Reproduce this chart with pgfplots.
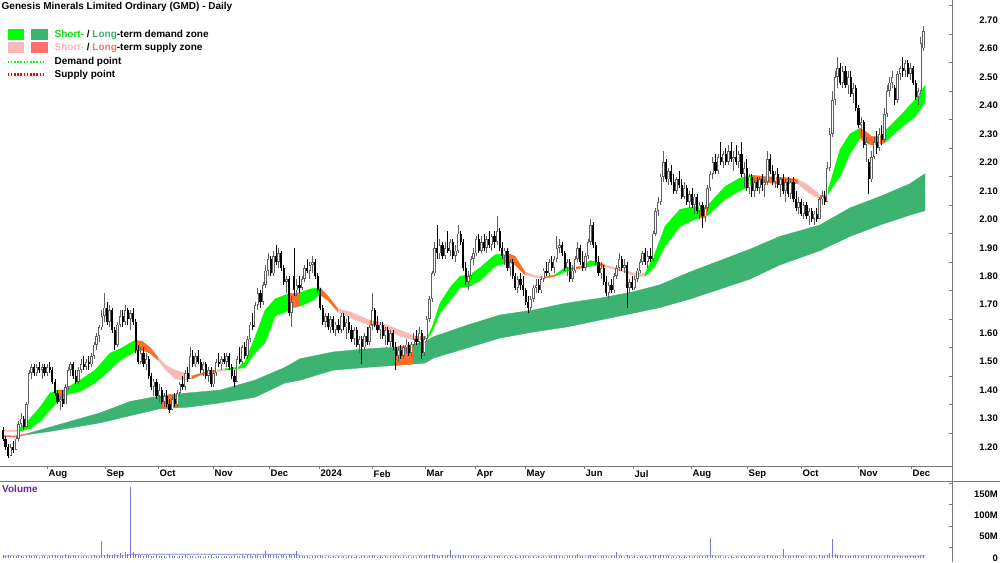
\documentclass[border=0pt]{standalone}
\usepackage{pgfplots}
\pgfplotsset{compat=1.18}
\usepackage{pgfplotstable}
\usepackage{fontspec}
\setmainfont{Liberation Sans}
\definecolor{stg}{RGB}{0,255,0}
\definecolor{stgt}{RGB}{0,225,0}
\definecolor{ltg}{RGB}{60,179,113}
\definecolor{stp}{RGB}{250,185,185}
\definecolor{ltp}{RGB}{255,110,110}
\definecolor{org}{RGB}{250,110,40}
\definecolor{upc}{RGB}{95,95,95}
\definecolor{volc}{RGB}{120,120,215}
\definecolor{volt}{RGB}{100,40,150}
\definecolor{axc}{RGB}{120,120,120}
\newcommand{\tf}{\fontsize{9.5}{11}\selectfont\bfseries}
\newcommand{\lf}{\fontsize{10}{12}\selectfont\bfseries}

\pgfplotstableread{
i o h l c v
0 1.26 1.27 1.22 1.23 6
1 1.23 1.24 1.19 1.20 5
2 1.20 1.21 1.16 1.17 7
3 1.17 1.21 1.17 1.20 4
4 1.20 1.22 1.18 1.19 5
5 1.19 1.24 1.19 1.23 4
6 1.23 1.29 1.22 1.28 6
7 1.28 1.32 1.27 1.30 5
8 1.30 1.31 1.26 1.27 3
9 1.27 1.36 1.27 1.35 5
10 1.35 1.47 1.35 1.46 7
11 1.46 1.49 1.44 1.48 5
12 1.48 1.49 1.45 1.46 4
13 1.46 1.49 1.45 1.48 5
14 1.48 1.50 1.46 1.47 3
15 1.47 1.49 1.44 1.48 4
16 1.48 1.49 1.45 1.46 5
17 1.46 1.49 1.45 1.48 3
18 1.48 1.50 1.46 1.47 4
19 1.47 1.48 1.42 1.43 6
20 1.43 1.44 1.38 1.39 7
21 1.39 1.40 1.35 1.36 5
22 1.36 1.38 1.33 1.37 4
23 1.37 1.40 1.34 1.35 5
24 1.35 1.42 1.35 1.41 9
25 1.41 1.48 1.40 1.47 6
26 1.47 1.50 1.45 1.49 5
27 1.49 1.50 1.44 1.45 7
28 1.45 1.47 1.42 1.43 4
29 1.43 1.48 1.42 1.47 5
30 1.47 1.51 1.46 1.49 3
31 1.49 1.52 1.47 1.48 4
32 1.48 1.51 1.47 1.50 5
33 1.50 1.52 1.47 1.49 3
34 1.49 1.53 1.48 1.52 4
35 1.52 1.57 1.51 1.56 6
36 1.56 1.60 1.54 1.59 5
37 1.59 1.63 1.57 1.62 4
38 1.62 1.68 1.61 1.66 40
39 1.66 1.74 1.64 1.69 6
40 1.69 1.71 1.63 1.64 10
41 1.64 1.70 1.62 1.68 8
42 1.68 1.69 1.60 1.61 7
43 1.61 1.62 1.54 1.56 9
44 1.56 1.64 1.55 1.63 6
45 1.63 1.68 1.62 1.66 12
46 1.66 1.68 1.62 1.64 8
47 1.64 1.70 1.63 1.68 15
48 1.68 1.69 1.63 1.65 10
49 1.65 1.68 1.61 1.67 166
50 1.67 1.69 1.63 1.64 13
51 1.64 1.65 1.53 1.54 9
52 1.54 1.56 1.49 1.50 7
53 1.50 1.55 1.49 1.53 6
54 1.53 1.55 1.48 1.49 5
55 1.49 1.53 1.47 1.51 6
56 1.51 1.52 1.44 1.45 7
57 1.45 1.46 1.40 1.41 5
58 1.41 1.44 1.38 1.43 4
59 1.43 1.44 1.37 1.38 6
60 1.38 1.42 1.36 1.40 5
61 1.40 1.41 1.35 1.36 4
62 1.36 1.39 1.34 1.38 5
63 1.38 1.40 1.34 1.35 3
64 1.35 1.37 1.32 1.33 6
65 1.33 1.38 1.33 1.37 4
66 1.37 1.39 1.34 1.35 5
67 1.35 1.40 1.34 1.39 3
68 1.39 1.43 1.38 1.42 4
69 1.42 1.45 1.40 1.41 5
70 1.41 1.47 1.40 1.46 6
71 1.46 1.48 1.43 1.44 3
72 1.44 1.55 1.44 1.52 4
73 1.52 1.54 1.48 1.49 5
74 1.49 1.53 1.48 1.52 3
75 1.52 1.54 1.49 1.50 4
76 1.50 1.51 1.46 1.47 5
77 1.47 1.50 1.45 1.49 3
78 1.49 1.50 1.44 1.45 4
79 1.45 1.48 1.43 1.47 5
80 1.47 1.48 1.41 1.42 6
81 1.42 1.47 1.41 1.46 3
82 1.46 1.51 1.45 1.50 4
83 1.50 1.53 1.48 1.49 5
84 1.49 1.52 1.47 1.51 3
85 1.51 1.53 1.49 1.50 4
86 1.50 1.53 1.48 1.52 5
87 1.52 1.53 1.47 1.48 3
88 1.48 1.49 1.44 1.45 4
89 1.45 1.47 1.41 1.43 6
90 1.43 1.52 1.43 1.51 5
91 1.51 1.55 1.49 1.50 4
92 1.50 1.56 1.49 1.55 6
93 1.55 1.57 1.51 1.52 5
94 1.52 1.59 1.51 1.58 7
95 1.58 1.64 1.57 1.63 6
96 1.63 1.67 1.61 1.62 5
97 1.62 1.71 1.62 1.70 7
98 1.70 1.76 1.68 1.74 6
99 1.74 1.75 1.69 1.71 5
100 1.71 1.78 1.70 1.77 8
101 1.77 1.84 1.76 1.82 17
102 1.82 1.88 1.80 1.86 8
103 1.86 1.87 1.80 1.81 7
104 1.81 1.89 1.80 1.87 6
105 1.87 1.91 1.84 1.85 7
106 1.85 1.90 1.83 1.88 5
107 1.88 1.89 1.82 1.83 6
108 1.83 1.84 1.77 1.78 8
109 1.78 1.80 1.74 1.79 5
110 1.79 1.80 1.66 1.67 9
111 1.67 1.73 1.62 1.71 7
112 1.80 1.90 1.73 1.75 8
113 1.75 1.79 1.73 1.77 16
114 1.77 1.80 1.74 1.76 5
115 1.76 1.80 1.75 1.79 4
116 1.79 1.84 1.78 1.83 5
117 1.83 1.86 1.81 1.82 4
118 1.82 1.85 1.79 1.84 3
119 1.84 1.87 1.81 1.85 4
120 1.85 1.86 1.79 1.80 5
121 1.80 1.81 1.74 1.75 4
122 1.75 1.76 1.68 1.69 6
123 1.69 1.70 1.63 1.64 4
124 1.64 1.67 1.62 1.66 3
125 1.66 1.67 1.61 1.62 4
126 1.62 1.66 1.60 1.65 3
127 1.65 1.66 1.60 1.61 4
128 1.61 1.64 1.59 1.63 3
129 1.63 1.65 1.60 1.61 4
130 1.61 1.67 1.60 1.66 3
131 1.66 1.67 1.61 1.62 4
132 1.62 1.65 1.58 1.64 3
133 1.64 1.66 1.60 1.61 4
134 1.61 1.63 1.57 1.58 5
135 1.58 1.62 1.56 1.61 3
136 1.61 1.62 1.55 1.56 4
137 1.56 1.59 1.53 1.58 3
138 1.58 1.59 1.49 1.55 5
139 1.55 1.60 1.54 1.59 4
140 1.59 1.62 1.56 1.57 3
141 1.57 1.63 1.56 1.62 4
142 1.63 1.74 1.61 1.68 6
143 1.68 1.69 1.62 1.63 4
144 1.63 1.66 1.60 1.61 3
145 1.61 1.64 1.58 1.63 4
146 1.63 1.64 1.58 1.59 3
147 1.59 1.62 1.56 1.61 4
148 1.61 1.62 1.56 1.57 3
149 1.57 1.61 1.55 1.60 4
150 1.60 1.61 1.54 1.55 3
151 1.55 1.57 1.47 1.52 5
152 1.52 1.55 1.50 1.54 4
153 1.54 1.56 1.51 1.52 3
154 1.52 1.56 1.51 1.55 4
155 1.55 1.58 1.53 1.56 3
156 1.56 1.57 1.52 1.53 4
157 1.53 1.57 1.52 1.56 3
158 1.56 1.60 1.55 1.58 4
159 1.58 1.61 1.56 1.57 3
160 1.57 1.62 1.56 1.60 4
161 1.60 1.61 1.51 1.53 5
162 1.53 1.59 1.52 1.58 4
163 1.58 1.66 1.57 1.65 7
164 1.65 1.73 1.64 1.72 8
165 1.72 1.82 1.71 1.81 9
166 1.81 1.92 1.80 1.90 8
167 1.90 1.98 1.86 1.88 7
168 1.88 1.93 1.86 1.91 5
169 1.91 1.92 1.86 1.87 6
170 1.87 1.92 1.86 1.90 5
171 1.90 1.96 1.88 1.89 6
172 1.89 1.93 1.87 1.92 19
173 1.92 1.93 1.86 1.87 6
174 1.87 1.91 1.85 1.89 5
175 1.89 1.98 1.88 1.95 7
176 1.95 1.96 1.91 1.92 5
177 1.92 1.93 1.82 1.83 6
178 1.83 1.85 1.77 1.78 5
179 1.78 1.82 1.75 1.80 4
180 1.80 1.87 1.79 1.86 5
181 1.86 1.90 1.84 1.88 4
182 1.88 1.94 1.87 1.93 5
183 1.93 1.95 1.88 1.89 4
184 1.89 1.94 1.88 1.92 3
185 1.92 1.95 1.89 1.90 4
186 1.90 1.94 1.88 1.93 3
187 1.93 1.96 1.90 1.91 4
188 1.91 1.95 1.89 1.94 3
189 1.94 1.96 1.90 1.92 4
190 1.92 2.01 1.91 1.96 5
191 1.96 1.97 1.89 1.90 4
192 1.90 1.92 1.86 1.87 3
193 1.87 1.90 1.84 1.89 4
194 1.89 1.90 1.82 1.83 3
195 1.83 1.86 1.80 1.85 4
196 1.85 1.86 1.79 1.80 3
197 1.80 1.81 1.75 1.76 4
198 1.76 1.80 1.74 1.79 3
199 1.79 1.81 1.75 1.77 4
200 1.77 1.80 1.73 1.75 5
201 1.75 1.76 1.70 1.71 4
202 1.71 1.73 1.67 1.69 5
203 1.69 1.73 1.68 1.72 3
204 1.72 1.77 1.71 1.76 4
205 1.76 1.79 1.74 1.77 3
206 1.77 1.79 1.74 1.75 4
207 1.75 1.80 1.74 1.79 3
208 1.79 1.83 1.78 1.82 4
209 1.82 1.85 1.80 1.81 3
210 1.81 1.86 1.80 1.85 4
211 1.85 1.87 1.82 1.83 5
212 1.83 1.87 1.81 1.86 4
213 1.86 1.94 1.85 1.90 6
214 1.90 1.93 1.88 1.91 5
215 1.91 1.92 1.87 1.88 4
216 1.88 1.89 1.82 1.83 3
217 1.83 1.86 1.80 1.85 4
218 1.85 1.86 1.78 1.79 5
219 1.79 1.84 1.78 1.82 4
220 1.82 1.87 1.81 1.86 5
221 1.86 1.92 1.85 1.90 9
222 1.90 1.91 1.84 1.85 5
223 1.85 1.89 1.82 1.83 4
224 1.83 1.88 1.82 1.87 3
225 1.87 1.93 1.86 1.92 4
226 1.92 2.00 1.91 1.98 6
227 1.98 1.99 1.90 1.91 5
228 1.91 1.92 1.84 1.85 4
229 1.85 1.87 1.80 1.81 3
230 1.81 1.85 1.79 1.83 4
231 1.83 1.84 1.77 1.78 5
232 1.78 1.80 1.73 1.74 4
233 1.74 1.78 1.72 1.77 3
234 1.77 1.79 1.74 1.75 4
235 1.75 1.81 1.74 1.80 5
236 1.80 1.84 1.79 1.83 14
237 1.83 1.88 1.82 1.86 5
238 1.86 1.87 1.82 1.83 4
239 1.83 1.86 1.81 1.84 3
240 1.84 1.85 1.69 1.76 6
241 1.76 1.79 1.74 1.78 4
242 1.78 1.80 1.75 1.76 3
243 1.76 1.80 1.75 1.79 4
244 1.79 1.83 1.78 1.82 3
245 1.82 1.86 1.81 1.85 4
246 1.85 1.89 1.84 1.88 5
247 1.88 1.90 1.84 1.85 4
248 1.85 1.89 1.83 1.87 3
249 1.87 1.90 1.85 1.86 4
250 1.86 1.96 1.85 1.95 6
251 1.95 2.04 1.94 2.03 8
252 2.03 2.08 2.01 2.06 5
253 2.06 2.16 2.05 2.15 6
254 2.15 2.24 2.13 2.20 7
255 2.20 2.21 2.13 2.14 5
256 2.14 2.18 2.12 2.17 4
257 2.17 2.19 2.12 2.13 3
258 2.13 2.16 2.09 2.10 4
259 2.10 2.15 2.09 2.14 3
260 2.14 2.17 2.11 2.12 4
261 2.12 2.14 2.07 2.08 3
262 2.08 2.13 2.07 2.11 4
263 2.11 2.12 2.05 2.06 3
264 2.06 2.10 2.04 2.09 4
265 2.09 2.11 2.04 2.05 3
266 2.05 2.09 2.02 2.08 4
267 2.08 2.09 2.02 2.03 3
268 2.03 2.06 2.00 2.05 4
269 2.05 2.06 1.97 2.01 5
270 2.01 2.05 1.99 2.04 4
271 2.04 2.12 2.03 2.11 6
272 2.11 2.17 2.10 2.16 47
273 2.16 2.22 2.14 2.20 7
274 2.20 2.23 2.16 2.17 5
275 2.17 2.23 2.16 2.22 4
276 2.22 2.27 2.19 2.20 5
277 2.20 2.24 2.18 2.23 3
278 2.23 2.25 2.19 2.20 4
279 2.20 2.26 2.19 2.24 3
280 2.24 2.27 2.20 2.21 4
281 2.21 2.24 2.17 2.22 3
282 2.22 2.26 2.19 2.20 4
283 2.20 2.24 2.18 2.23 3
284 2.23 2.27 2.15 2.16 5
285 2.16 2.20 2.11 2.18 4
286 2.18 2.21 2.10 2.11 3
287 2.11 2.16 2.09 2.15 4
288 2.15 2.16 2.08 2.10 5
289 2.10 2.14 2.08 2.13 4
290 2.13 2.15 2.10 2.11 3
291 2.11 2.15 2.09 2.14 4
292 2.14 2.16 2.10 2.12 3
293 2.12 2.14 2.08 2.13 4
294 2.13 2.24 2.12 2.21 6
295 2.21 2.23 2.16 2.17 4
296 2.17 2.19 2.12 2.13 5
297 2.13 2.17 2.11 2.16 4
298 2.16 2.18 2.11 2.12 5
299 2.12 2.15 2.08 2.14 3
300 2.14 2.16 2.09 2.10 21
301 2.10 2.14 2.06 2.13 5
302 2.13 2.15 2.08 2.09 4
303 2.09 2.14 2.07 2.13 5
304 2.13 2.15 2.06 2.07 4
305 2.07 2.10 2.03 2.04 6
306 2.04 2.08 2.02 2.06 4
307 2.06 2.07 2.01 2.02 5
308 2.02 2.06 2.00 2.05 4
309 2.05 2.06 2.00 2.01 3
310 2.01 2.04 1.98 2.03 4
311 2.03 2.04 1.99 2.00 5
312 2.00 2.03 1.98 2.02 4
313 2.02 2.04 1.99 2.00 3
314 2.00 2.08 2.00 2.07 6
315 2.07 2.10 2.05 2.08 5
316 2.08 2.10 2.05 2.06 4
317 2.06 2.20 2.06 2.18 8
318 2.18 2.32 2.17 2.30 12
319 2.30 2.45 2.29 2.42 44
320 2.42 2.52 2.40 2.50 9
321 2.50 2.57 2.46 2.53 7
322 2.53 2.55 2.47 2.48 6
323 2.48 2.54 2.46 2.52 5
324 2.52 2.54 2.46 2.47 4
325 2.47 2.52 2.44 2.50 5
326 2.50 2.52 2.43 2.44 4
327 2.44 2.48 2.41 2.46 5
328 2.46 2.47 2.38 2.39 6
329 2.39 2.40 2.32 2.33 5
330 2.33 2.36 2.29 2.34 4
331 2.34 2.35 2.25 2.26 5
332 2.26 2.29 2.20 2.27 4
333 2.20 2.21 2.09 2.14 7
334 2.14 2.24 2.13 2.22 5
335 2.22 2.29 2.21 2.27 4
336 2.27 2.31 2.23 2.25 5
337 2.25 2.32 2.24 2.30 4
338 2.30 2.33 2.26 2.28 3
339 2.28 2.39 2.27 2.37 5
340 2.37 2.47 2.36 2.45 6
341 2.45 2.50 2.43 2.48 4
342 2.48 2.52 2.46 2.50 5
343 2.46 2.47 2.40 2.42 4
344 2.42 2.52 2.41 2.51 5
345 2.51 2.54 2.49 2.53 4
346 2.53 2.57 2.50 2.52 3
347 2.52 2.56 2.50 2.55 4
348 2.55 2.56 2.50 2.51 5
349 2.51 2.55 2.49 2.53 4
350 2.53 2.54 2.47 2.48 5
351 2.48 2.49 2.42 2.43 4
352 2.43 2.46 2.40 2.45 5
353 2.45 2.64 2.44 2.62 7
354 2.60 2.68 2.59 2.66 6
}\candles

\pgfplotsset{
  band/.style={fill=#1, draw=#1, line width=0.4pt, forget plot},
  wick/.style 2 args={only marks, mark=*, mark size=0pt, mark options={draw=none, fill=none}, forget plot,
    error bars/y dir=plus, error bars/y explicit, error bars/error mark=none,
    error bars/error bar style={#1, line width=#2}},
}

\begin{document}
\begin{tikzpicture}[x=1pt,y=1pt]
\path[use as bounding box] (0pt,0pt) rectangle (1000pt,562pt);

\begin{axis}[
  at={(0pt,562pt)}, anchor=north west, scale only axis,
  width=952pt, height=466pt,
  xmin=0, xmax=952, ymin=1.1335, ymax=2.7702,
  axis x line*=bottom, axis y line*=right,
  axis line style={-, axc, line width=0.8pt},
  major tick length=0pt, minor tick length=3pt,
  xtick align=outside, ytick align=inside,
  tick style={axc, line width=0.6pt},
  xtick={47,105,158,213,269,319,372,425,475,525,584,633,691,747,801,858,911},
  minor xtick={47,105,158,213,269,319,372,425,475,525,584,633,691,747,801,858,911},
  xticklabels={Aug,Sep,Oct,Nov,Dec,2024,Feb,Mar,Apr,May,Jun,Jul,Aug,Sep,Oct,Nov,Dec},
  xticklabel style={font=\tf, anchor=north west, inner sep=0pt, xshift=1.5pt, yshift=-4pt},
  ytick={1.2,1.3,1.4,1.5,1.6,1.7,1.8,1.9,2.0,2.1,2.2,2.3,2.4,2.5,2.6,2.7},
  yticklabels={1.20,1.30,1.40,1.50,1.60,1.70,1.80,1.90,2.00,2.10,2.20,2.30,2.40,2.50,2.60,2.70},
  minor ytick={1.25,1.35,1.45,1.55,1.65,1.75,1.85,1.95,2.05,2.15,2.25,2.35,2.45,2.55,2.65,2.75},
  yticklabel style={font=\tf, anchor=east, inner sep=0pt, xshift=46pt},
]
% long-term band
\addplot[band=ltg] coordinates {(28,1.248)(50,1.27)(75,1.295)(100,1.32)(130,1.36)(160,1.38)(188,1.39)(220,1.40)(255,1.435)(285,1.48)(300,1.51)(333,1.534)(367,1.545)(400,1.552)(425,1.57)(433,1.587)(467,1.628)(500,1.664)(533,1.681)(567,1.706)(600,1.723)(633,1.745)(660,1.77)(690,1.815)(720,1.855)(750,1.895)(780,1.94)(800,1.96)(820,1.98)(850,2.04)(880,2.08)(910,2.125)(925,2.16)
 (925,2.03)(910,2.015)(880,1.98)(850,1.94)(820,1.89)(800,1.865)(780,1.84)(750,1.79)(720,1.755)(690,1.72)(660,1.69)(633,1.67)(600,1.646)(567,1.622)(533,1.604)(500,1.583)(467,1.548)(433,1.512)(425,1.495)(400,1.488)(367,1.48)(333,1.47)(300,1.435)(285,1.425)(255,1.375)(220,1.355)(188,1.34)(160,1.335)(130,1.31)(100,1.285)(75,1.27)(50,1.255)(28,1.244)} -- cycle;
\addplot[band=org] coordinates {(162,1.381)(177,1.386)(177,1.338)(162,1.335)} -- cycle;
\addplot[band=org] coordinates {(395,1.551)(413,1.558)(413,1.492)(395,1.487)} -- cycle;
\addplot[band=ltp] coordinates {(3,1.241)(15,1.239)(28,1.248)(28,1.244)(15,1.235)(3,1.237)} -- cycle;
% short-term band
\addplot[band=stp] coordinates {(3,1.260)(18,1.259)(18,1.254)(3,1.256)} -- cycle;
\addplot[band=stg] coordinates {(18,1.259)(30,1.30)(40,1.34)(50,1.39)(58,1.40)(58,1.36)(50,1.33)(40,1.29)(30,1.265)(18,1.254)} -- cycle;
\addplot[band=org] coordinates {(58,1.40)(63,1.40)(68,1.41)(68,1.385)(63,1.365)(58,1.36)} -- cycle;
\addplot[band=stg] coordinates {(68,1.41)(80,1.435)(95,1.47)(110,1.53)(120,1.545)(135,1.575)(135,1.535)(120,1.505)(110,1.47)(95,1.425)(80,1.395)(68,1.385)} -- cycle;
\addplot[band=org] coordinates {(135,1.575)(142,1.572)(150,1.55)(158,1.515)(158,1.505)(150,1.53)(142,1.54)(135,1.535)} -- cycle;
\addplot[band=stp] coordinates {(158,1.515)(165,1.49)(175,1.47)(185,1.46)(192,1.45)(192,1.44)(185,1.435)(175,1.44)(165,1.475)(158,1.505)} -- cycle;
\addplot[band=org] coordinates {(192,1.45)(200,1.458)(215,1.47)(215,1.464)(200,1.452)(192,1.44)} -- cycle;
\addplot[band=stp] coordinates {(215,1.47)(225,1.475)(225,1.47)(215,1.464)} -- cycle;
\addplot[band=stg] coordinates {(225,1.475)(238,1.48)(245,1.50)(255,1.585)(265,1.68)(275,1.72)(288,1.738)(288,1.678)(275,1.66)(265,1.565)(255,1.53)(245,1.48)(238,1.475)(225,1.47)} -- cycle;
\addplot[band=org] coordinates {(288,1.738)(294,1.74)(300,1.742)(300,1.695)(294,1.69)(288,1.678)} -- cycle;
\addplot[band=stg] coordinates {(300,1.742)(310,1.755)(320,1.76)(320,1.735)(310,1.71)(300,1.695)} -- cycle;
\addplot[band=org] coordinates {(320,1.76)(328,1.73)(338,1.685)(338,1.675)(328,1.715)(320,1.735)} -- cycle;
\addplot[band=stp] coordinates {(338,1.685)(350,1.675)(360,1.66)(370,1.645)(370,1.628)(360,1.64)(350,1.655)(338,1.675)} -- cycle;
\addplot[band=org] coordinates {(370,1.645)(377,1.64)(377,1.625)(370,1.628)} -- cycle;
\addplot[band=stp] coordinates {(377,1.64)(390,1.625)(400,1.61)(415,1.59)(415,1.575)(400,1.59)(390,1.605)(377,1.625)} -- cycle;
\addplot[band=org] coordinates {(415,1.59)(422,1.588)(428,1.59)(428,1.583)(422,1.578)(415,1.575)} -- cycle;
\addplot[band=stg] coordinates {(428,1.59)(432,1.62)(440,1.705)(450,1.76)(460,1.80)(470,1.805)(480,1.83)(495,1.875)(508,1.88)(508,1.848)(495,1.835)(480,1.785)(470,1.765)(460,1.76)(450,1.715)(440,1.67)(432,1.605)(428,1.583)} -- cycle;
\addplot[band=org] coordinates {(508,1.88)(515,1.87)(525,1.815)(525,1.805)(515,1.84)(508,1.848)} -- cycle;
\addplot[band=stp] coordinates {(525,1.815)(535,1.802)(545,1.798)(545,1.793)(535,1.796)(525,1.805)} -- cycle;
\addplot[band=org] coordinates {(545,1.798)(555,1.805)(555,1.80)(545,1.793)} -- cycle;
\addplot[band=stg] coordinates {(555,1.805)(565,1.83)(570,1.83)(570,1.82)(565,1.815)(555,1.80)} -- cycle;
\addplot[band=org] coordinates {(570,1.83)(583,1.835)(583,1.83)(570,1.82)} -- cycle;
\addplot[band=stg] coordinates {(583,1.835)(590,1.855)(597,1.85)(597,1.84)(590,1.835)(583,1.83)} -- cycle;
\addplot[band=org] coordinates {(597,1.85)(605,1.84)(605,1.832)(597,1.84)} -- cycle;
\addplot[band=stp] coordinates {(605,1.84)(615,1.83)(625,1.82)(635,1.81)(645,1.81)(645,1.80)(635,1.80)(625,1.814)(615,1.824)(605,1.832)} -- cycle;
\addplot[band=stg] coordinates {(645,1.81)(655,1.88)(665,1.975)(680,2.035)(695,2.045)(700,2.045)(700,2.005)(695,2.00)(680,1.975)(665,1.905)(655,1.835)(645,1.80)} -- cycle;
\addplot[band=org] coordinates {(700,2.045)(704,2.04)(708,2.05)(708,2.015)(704,2.005)(700,2.005)} -- cycle;
\addplot[band=stg] coordinates {(708,2.05)(725,2.115)(740,2.145)(752,2.155)(752,2.12)(740,2.10)(725,2.07)(708,2.015)} -- cycle;
\addplot[band=org] coordinates {(752,2.155)(765,2.15)(780,2.148)(790,2.145)(798,2.14)(798,2.125)(790,2.125)(780,2.125)(765,2.13)(752,2.12)} -- cycle;
\addplot[band=stp] coordinates {(798,2.14)(808,2.12)(815,2.10)(820,2.085)(820,2.075)(815,2.08)(808,2.095)(798,2.125)} -- cycle;
\addplot[band=org] coordinates {(820,2.085)(826,2.085)(826,2.075)(820,2.075)} -- cycle;
\addplot[band=stg] coordinates {(826,2.085)(830,2.125)(840,2.245)(850,2.30)(860,2.32)(860,2.285)(850,2.23)(840,2.15)(830,2.10)(826,2.075)} -- cycle;
\addplot[band=org] coordinates {(860,2.32)(865,2.31)(872,2.29)(882,2.295)(885,2.31)(885,2.27)(882,2.265)(872,2.26)(865,2.27)(860,2.285)} -- cycle;
\addplot[band=stg] coordinates {(885,2.31)(888,2.32)(902,2.37)(915,2.42)(925,2.47)(925,2.41)(915,2.36)(902,2.325)(888,2.28)(885,2.27)} -- cycle;

% candles: wicks
\addplot[wick={upc}{0.8pt}, restrict expr to domain={\thisrow{c}-\thisrow{o}}{0:5}]
  table[x expr=3+2.6*\thisrow{i}, y=l, y error plus expr=\thisrow{h}-\thisrow{l}] {\candles};
\addplot[wick={black}{0.8pt}, restrict expr to domain={\thisrow{c}-\thisrow{o}}{-5:-0.0001}]
  table[x expr=3+2.6*\thisrow{i}, y=l, y error plus expr=\thisrow{h}-\thisrow{l}] {\candles};
% candles: bodies
\addplot[wick={upc}{2.4pt}, restrict expr to domain={\thisrow{c}-\thisrow{o}}{0:5}]
  table[x expr=3+2.6*\thisrow{i}, y=o, y error plus expr=\thisrow{c}-\thisrow{o}] {\candles};
\addplot[wick={white}{0.8pt}, restrict expr to domain={\thisrow{c}-\thisrow{o}}{0.007:5}]
  table[x expr=3+2.6*\thisrow{i}, y expr=\thisrow{o}+0.003, y error plus expr=\thisrow{c}-\thisrow{o}-0.006] {\candles};
\addplot[wick={black}{2.2pt}, restrict expr to domain={\thisrow{c}-\thisrow{o}}{-5:-0.0001}]
  table[x expr=3+2.6*\thisrow{i}, y=c, y error plus expr=\thisrow{o}-\thisrow{c}] {\candles};
\end{axis}

\begin{axis}[
  at={(0pt,81pt)}, anchor=north west, scale only axis,
  width=952pt, height=77pt,
  xmin=0, xmax=952, ymin=0, ymax=180.5,
  axis x line*=top, axis y line*=right,
  axis line style={-, axc, line width=0.8pt},
  major tick length=0pt, minor tick length=3pt,
  ytick align=inside, tick style={axc, line width=0.6pt},
  xtick=\empty,
  ytick={0,50,100,150}, yticklabels={0,50M,100M,150M},
  minor ytick={25,75,125,175},
  yticklabel style={font=\tf, anchor=east, inner sep=0pt, xshift=46pt},
]
\addplot[ycomb, volc, line width=0.8pt, mark=none] table[x expr=3+2.6*\thisrow{i}, y=v] {\candles};
\addplot[volc, line width=0.6pt, mark=none] coordinates {(3,4.8)(127,5.0)(130,8.8)(297,8.8)(300,5.0)(925,4.8)};
\end{axis}

\draw[axc, line width=0.8pt] (952pt,0pt) -- (952pt,562pt);
\draw[axc, line width=0.8pt] (952pt,81pt) -- (1000pt,81pt);

% title and legend
\node[anchor=west, inner sep=0pt] at (1.5pt,555pt) {\lf Genesis Minerals Limited Ordinary (GMD) - Daily};
\fill[stg] (7.5pt,532.5pt) rectangle (24pt,521.5pt);
\fill[ltg] (31pt,532.5pt) rectangle (48pt,521.5pt);
\fill[stp] (7.5pt,519.5pt) rectangle (24pt,508.5pt);
\fill[ltp] (31pt,519.5pt) rectangle (48pt,508.5pt);
\draw[stg, line width=2.2pt, dash pattern=on 1.6pt off 1.6pt] (7.5pt,500pt) -- (45pt,500pt);
\draw[red, line width=2.2pt, dash pattern=on 1.6pt off 1.6pt] (7.5pt,487.5pt) -- (45pt,487.5pt);
\node[anchor=west, inner sep=0pt] at (54.5pt,527pt) {\lf\textcolor{stgt}{Short-} / \textcolor{ltg}{Long}-term demand zone};
\node[anchor=west, inner sep=0pt] at (54.5pt,514pt) {\lf\textcolor{stp}{Short-} / \textcolor{ltp}{Long}-term supply zone};
\node[anchor=west, inner sep=0pt] at (54.5pt,500pt) {\lf Demand point};
\node[anchor=west, inner sep=0pt] at (54.5pt,487.5pt) {\lf Supply point};
\node[anchor=west, inner sep=0pt] at (2pt,73pt) {\lf\textcolor{volt}{Volume}};
\end{tikzpicture}
\end{document}
